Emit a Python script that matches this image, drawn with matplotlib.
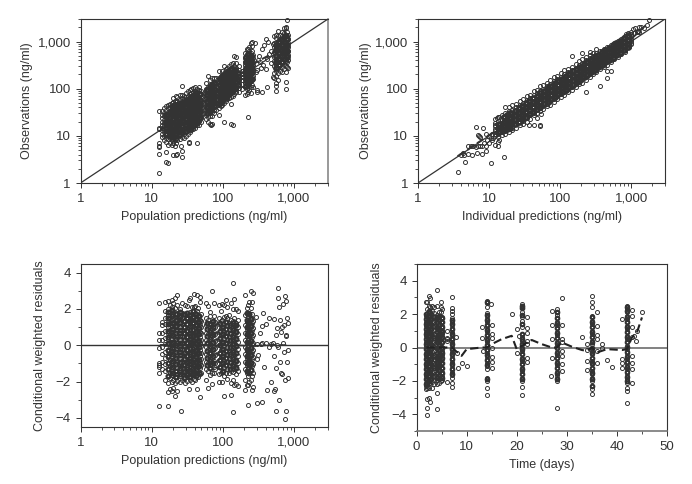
import matplotlib
matplotlib.use('Agg')
import matplotlib.pyplot as plt
from matplotlib.ticker import FixedLocator, NullFormatter

plt.rcParams['font.family'] = ['Liberation Sans', 'DejaVu Sans']

# top left: observations against population predictions
tl_x = [14, 15, 16, 17, 18, 19, 20, 21, 22, 23, 25, 26.5, 28, 30, 32, 34, 36, 38, 40, 43, 46, 49,
        58, 62, 66, 70, 75, 80,
        88, 93, 98, 104, 110, 116, 122, 130, 137, 145, 155, 168, 185,
        205, 215, 225, 235, 245, 255, 265,
        520, 560, 600, 640, 680, 720, 760, 800, 820]
tl_y = [[9.5, 11, 13, 15, 17, 20, 24, 28, 33],
        [8, 10, 12, 14, 16, 19, 22, 26, 31, 38],
        [7.5, 9, 10.5, 12.5, 15, 17.5, 21, 25, 29, 35, 42],
        [6.5, 8.5, 10, 12, 14, 16.5, 19, 23, 27, 32, 38, 44],
        [7, 9, 11, 13, 15, 18, 21, 25, 29, 34, 40, 47],
        [6.5, 8, 9.5, 11, 13.5, 16, 19, 22, 26, 30, 36, 42, 50],
        [7, 8.5, 10, 12, 14, 16.5, 20, 23, 27, 32, 37, 44, 52, 62],
        [6, 8, 9.5, 11.5, 13, 15.5, 18, 21, 25, 29, 34, 40, 47, 55],
        [7, 9, 10.5, 12.5, 14.5, 17, 20, 24, 28, 33, 38, 45, 52, 70],
        [8, 10, 11.5, 13.5, 16, 19, 22, 26, 30, 35, 41, 48, 56, 68],
        [8.5, 10.5, 12.5, 14.5, 17, 20, 23, 27, 31, 37, 43, 50, 58, 72],
        [9.5, 11.5, 13.5, 16, 18.5, 22, 25, 29, 34, 40, 46, 54, 63, 75, 115],
        [9, 11, 13, 15, 17.5, 20.5, 24, 28, 32, 38, 44, 51, 60, 70],
        [10, 12.5, 14.5, 17, 19.5, 23, 27, 31, 36, 42, 49, 57, 66, 80],
        [11, 13, 15.5, 18, 21, 24.5, 29, 33, 39, 45, 52, 61, 71, 88],
        [12, 14.5, 17, 20, 23, 27, 31, 36, 42, 49, 57, 66, 77, 95],
        [13, 15.5, 18, 21, 24.5, 28, 33, 38, 44, 51, 60, 69, 80, 100],
        [14, 17, 20, 23, 26, 30, 35, 41, 47, 55, 63, 73, 85, 103],
        [15, 18, 21, 24, 28, 32, 37, 43, 50, 58, 67, 78, 90, 108],
        [17, 20, 23, 27, 31, 35, 41, 47, 55, 63, 73, 85, 100],
        [17, 21, 25, 29, 33, 38, 44, 51, 59, 68, 79, 92, 110],
        [20, 24, 28, 32, 37, 43, 50, 58, 66, 76, 88],
        [23, 28, 33, 39, 46, 54, 63, 73, 85, 100, 130],
        [20, 25, 30, 36, 42, 49, 57, 66, 78, 92, 110, 185],
        [18, 26, 31, 37, 44, 52, 61, 72, 84, 98, 120, 150],
        [26, 32, 38, 45, 53, 62, 73, 86, 100, 125, 165],
        [30, 36, 43, 51, 60, 70, 82, 96, 115, 140, 170],
        [35, 42, 50, 59, 69, 81, 95, 112, 135, 165],
        [27, 38, 45, 53, 62, 73, 86, 100, 118, 140, 170, 235],
        [42, 50, 58, 68, 80, 94, 110, 130, 155, 185],
        [45, 53, 62, 73, 86, 101, 119, 140, 165, 195, 240],
        [50, 59, 69, 81, 95, 112, 131, 155, 180, 215, 300],
        [55, 64, 76, 89, 104, 122, 144, 170, 200, 260],
        [60, 71, 83, 98, 115, 135, 160, 188, 225, 280],
        [62, 74, 87, 102, 120, 142, 167, 195, 240, 300],
        [48, 68, 80, 94, 110, 130, 153, 180, 215, 260, 330],
        [70, 84, 99, 116, 137, 160, 190, 225, 270, 350],
        [78, 92, 108, 127, 150, 176, 208, 250, 300, 490],
        [85, 100, 118, 138, 163, 192, 228, 270, 350, 460],
        [85, 105, 125, 150, 175, 210, 250, 300],
        [100, 125, 150, 175, 200, 240],
        [72, 110, 135, 160, 190, 225, 265, 310, 370, 450, 580],
        [78, 100, 125, 150, 178, 210, 250, 295, 350, 420, 520, 700],
        [85, 115, 140, 165, 195, 230, 270, 320, 380, 460, 560, 680],
        [95, 130, 155, 185, 218, 258, 305, 360, 430, 520, 640, 780],
        [80, 110, 145, 172, 205, 240, 285, 340, 400, 480, 580, 950],
        [120, 150, 180, 215, 255, 300, 350, 420, 500, 620, 800],
        [110, 160, 190, 225, 265, 310, 370, 440, 530],
        [170, 220, 300, 380, 470, 600, 750, 950, 1300],
        [135, 190, 240, 320, 400, 500, 620, 770, 950, 1200, 1350],
        [150, 215, 280, 360, 450, 560, 690, 850, 1050, 1300, 1700],
        [240, 310, 400, 500, 620, 760, 930, 1150, 1400],
        [230, 290, 370, 460, 570, 700, 860, 1050, 1300, 1600],
        [260, 340, 430, 530, 650, 800, 980, 1200, 1500, 1900],
        [230, 300, 390, 490, 600, 740, 900, 1100, 1350, 1900, 2000],
        [290, 370, 470, 580, 710, 870, 1060, 1300, 1600],
        [270, 400, 520, 640, 780, 950, 1150, 1400]]
tl_out_x = [12.7, 12.7, 12.7, 12.7, 12.7, 12.7, 12.7, 12.7, 16, 17, 16, 20, 23, 22, 27, 27, 26, 33, 33, 43,
            105, 130, 140, 225, 300, 300, 350, 420, 550, 560, 780, 780, 800, 70, 68, 400, 430, 280, 260,
            290, 310, 340, 370, 400, 440, 470, 320, 360, 480, 500, 300, 330, 500, 420, 380]
tl_out_y = [33, 15, 14, 7.2, 6, 5.7, 4.1, 1.65, 2.8, 2.6, 4.5, 3.9, 4.2, 4, 3.5, 4.7, 6, 7.5, 7, 7,
            20, 17.5, 17, 25, 85, 95, 85, 110, 90, 115, 140, 98, 2900, 18, 17, 1150, 1000, 950, 980,
            230, 400, 270, 320, 260, 550, 350, 500, 700, 620, 180, 250, 370, 900, 430, 850]
# overlapped centre of the clouds, where the open circles merge to near solid
tl_core_x = [16, 18, 20, 22, 24.5, 27, 30, 33, 36, 39, 42, 45, 48,
             60, 65, 70, 75,
             90, 97, 104, 112, 120, 130, 140, 150, 165,
             210, 222, 235, 250,
             560, 620, 680, 740, 800]
tl_core_y = [[11, 15, 20, 27], [10, 13, 18, 24, 32], [9.5, 12.5, 17, 23, 30, 40], [11, 15, 20, 27, 36, 46],
             [10.5, 14, 19, 25, 33, 44], [12, 16, 21, 28, 37, 50], [12.5, 17, 23, 30, 40, 54], [14, 18.5, 25, 33, 44, 60],
             [15, 20, 27, 36, 48, 66], [17, 22, 30, 40, 54, 75], [19, 25, 33, 45, 60, 82], [21, 28, 37, 50, 66], [25, 33, 44, 58, 76],
             [30, 40, 53, 72, 95], [34, 45, 60, 80, 108], [38, 50, 67, 90, 122], [42, 56, 75, 100, 135],
             [50, 66, 88, 118, 158], [56, 74, 98, 132, 178], [62, 82, 110, 148, 198], [68, 92, 122, 165, 220],
             [76, 102, 136, 182, 240], [85, 113, 150, 200, 265], [95, 126, 168, 225], [105, 140, 185, 245], [120, 160, 215],
             [115, 155, 205, 275, 365, 480], [130, 172, 230, 305, 405, 540], [145, 195, 260, 345, 460], [160, 215, 285, 380, 500],
             [280, 370, 490, 650, 860], [320, 430, 570, 750, 1000], [370, 490, 650, 860, 1150], [420, 560, 740, 980, 1300], [480, 640, 850, 1120]]
tl_line_x = [15, 40, 100, 300, 500, 820]
tl_line_y = [19, 45, 112, 370, 560, 900]

# top right: observations against individual predictions
tr_x = [12, 13.5, 15, 17, 19, 21, 24, 27, 30, 34, 38, 43, 48, 52, 58, 65, 73, 82, 92, 103, 115, 130, 145,
        165, 185, 205, 230, 260, 290, 325, 365, 410, 460, 515, 580, 650, 730, 820, 920, 1000]
tr_y = [[10, 11, 12.5, 14, 16, 19, 23],
        [9.5, 11, 12.5, 14, 16, 18, 21, 25],
        [10.5, 12, 13.5, 15, 17, 19, 22, 27],
        [11, 12.5, 14.5, 16.5, 19, 22, 25, 30, 40],
        [12, 14, 16, 18.5, 21, 24, 28, 33, 41],
        [13, 15, 17.5, 20, 23, 26, 30, 36, 44],
        [15, 17.5, 20, 23, 26, 30, 35, 41, 48],
        [17, 19.5, 22.5, 26, 30, 34, 39, 46, 54],
        [18, 21, 24.5, 28, 32, 37, 43, 50, 60],
        [20, 24, 28, 32, 37, 42, 49, 57, 70],
        [23, 27, 31, 36, 41, 47, 55, 64, 75],
        [17, 27, 31, 35, 41, 47, 54, 62, 73, 88],
        [30, 35, 40, 46, 53, 60, 70, 80, 95],
        [17, 34, 39, 45, 52, 60, 69, 80, 90, 115],
        [37, 43, 50, 57, 66, 76, 87, 100, 118],
        [42, 48, 56, 64, 74, 85, 98, 113, 130],
        [46, 54, 63, 72, 83, 95, 110, 127, 150],
        [52, 61, 71, 81, 93, 107, 124, 145, 180],
        [60, 69, 79, 91, 105, 120, 138, 160, 190],
        [68, 78, 90, 103, 118, 136, 156, 180, 210],
        [75, 87, 100, 115, 132, 150, 173, 200, 250],
        [85, 98, 112, 128, 147, 168, 193, 225, 265],
        [95, 110, 125, 143, 165, 188, 215, 250, 290, 490],
        [110, 125, 142, 162, 186, 212, 243, 280, 340],
        [125, 140, 160, 183, 208, 238, 272, 315, 380],
        [135, 157, 180, 205, 235, 268, 305, 355, 430, 560],
        [85, 155, 178, 203, 232, 264, 300, 345, 400, 480],
        [175, 200, 228, 260, 297, 338, 385, 445, 520, 600],
        [200, 225, 255, 290, 330, 375, 430, 500, 570],
        [225, 255, 290, 330, 375, 425, 485, 560, 680],
        [115, 260, 290, 325, 365, 420, 475, 540, 620],
        [285, 325, 365, 410, 465, 525, 595, 680],
        [170, 240, 325, 365, 410, 460, 520, 590, 670, 770],
        [240, 360, 410, 460, 515, 580, 650, 735, 850],
        [420, 465, 520, 580, 650, 730, 820, 920],
        [470, 520, 585, 650, 730, 820, 920, 1030],
        [540, 600, 660, 730, 820, 920, 1030, 1150],
        [610, 670, 740, 820, 920, 1030, 1150, 1300],
        [780, 830, 920, 1030, 1150, 1300, 1450],
        [880, 950, 1050, 1150, 1300, 1450, 1600]]
tr_out_x = [3.6, 4.6, 4.5, 5, 5.7, 6.7, 8, 9, 10.5, 16, 6.5, 8.2, 7, 7.3, 7.5, 9, 5, 5.5, 6, 6.5, 7, 7.5, 8, 8.5, 9,
            9.5, 10, 10.5, 11, 11.5, 12, 13.5, 13.5, 14, 10, 11, 4, 4.3, 12, 13, 14, 37, 52, 47, 54,
            1100, 1200, 1250, 1300, 1400, 1500, 1800, 1700, 1150, 1050, 900, 850, 1250, 1280]
tr_out_y = [1.7, 2.8, 4, 4.1, 4, 4.4, 4.2, 4.7, 2.6, 3.5, 15.5, 15, 10.5, 10, 9.5, 11, 6.2, 6, 6, 5.8, 6, 6.2, 6, 7, 6,
            8, 7, 9, 8, 9, 6.5, 6, 7.5, 8, 10, 11, 4, 4.3, 17, 24, 25, 17, 16.5, 24, 29,
            1500, 1600, 1700, 2000, 2000, 1900, 2800, 2200, 1950, 1800, 1500, 1450, 1650, 1600]
tr_core_x = [14, 16, 18, 20, 23, 26, 29, 33, 37, 42, 47, 53, 60, 67, 75, 85, 95, 107, 120, 135, 152, 171, 192,
             216, 243, 273, 307, 345, 388, 436, 490, 550, 620, 700, 790, 890]
tr_core_y = [[12, 14.5, 18], [13, 16, 20, 25], [14, 17.5, 22, 27], [15, 19, 24, 30], [17.5, 22, 27, 34], [20, 25, 31, 38],
             [22.5, 28, 35, 43], [25, 32, 40, 50], [29, 36, 45, 56], [32, 41, 51, 63], [37, 46, 57, 71], [41, 52, 65, 80],
             [47, 59, 73, 90], [53, 66, 82, 102], [60, 74, 93, 115], [67, 84, 105, 130], [76, 95, 118, 146], [86, 107, 133, 163],
             [96, 120, 149, 183], [108, 135, 168, 205], [122, 152, 190, 232], [137, 172, 214, 262], [154, 193, 240, 293],
             [175, 218, 270, 330], [197, 245, 305, 370], [222, 275, 340, 415], [250, 310, 385, 465], [282, 350, 432, 525],
             [318, 392, 485, 590], [360, 440, 545, 660], [405, 495, 610, 740], [455, 555, 685, 830], [515, 625, 770, 925],
             [580, 700, 865, 1040], [660, 790, 975, 1170], [760, 900, 1100, 1300]]
tr_line_x = [3.6, 5, 10, 100, 1000, 1800]
tr_line_y = [3.7, 5.1, 10.3, 108, 1120, 2600]

# bottom left: residuals against population predictions
bl_x = [14, 15.5, 17, 18, 19, 20, 21.5, 23, 25, 27, 29, 31, 33, 35, 37, 39, 41, 43, 45, 47, 49.5,
        58, 62, 66, 70, 74, 78,
        88, 93, 98, 104, 110, 116, 122, 130, 137, 145, 155, 165,
        205, 215, 225, 235, 245, 255, 265]
bl_y = [[-1.3, -0.9, -0.5, -0.1, 0.3, 0.7, 1.1, 1.3],
        [-1.9, -1.4, -1.05, -0.7, -0.35, 0.05, 0.4, 0.8, 1.15, 1.5, 1.9, 2.4],
        [-2.6, -2.1, -1.7, -1.3, -1, -0.65, -0.3, 0.05, 0.35, 0.7, 1, 1.3, 1.65, 2.0, 2.45],
        [-2.4, -1.8, -1.5, -1.15, -0.8, -0.45, -0.15, 0.2, 0.55, 0.85, 1.2, 1.5, 1.85, 2.2],
        [-2.5, -2.05, -1.65, -1.3, -0.95, -0.6, -0.3, 0.05, 0.35, 0.7, 1.05, 1.4, 1.7, 2.1, 2.5],
        [-2.35, -1.9, -1.55, -1.2, -0.85, -0.5, -0.2, 0.15, 0.5, 0.85, 1.15, 1.5, 1.85, 2.3],
        [-2.8, -2.1, -1.75, -1.4, -1.05, -0.7, -0.35, 0, 0.3, 0.65, 1, 1.35, 1.7, 2.05, 2.6],
        [-2.5, -1.95, -1.6, -1.25, -0.9, -0.6, -0.25, 0.1, 0.45, 0.8, 1.1, 1.45, 1.8, 2.2, 2.75],
        [-2, -1.7, -1.35, -1, -0.7, -0.35, 0, 0.3, 0.65, 1, 1.3, 1.65, 2],
        [-1.9, -1.55, -1.2, -0.85, -0.5, -0.2, 0.15, 0.5, 0.8, 1.15, 1.5, 1.8, 2.3],
        [-2.1, -1.75, -1.4, -1.05, -0.7, -0.35, 0, 0.35, 0.7, 1, 1.35, 1.7, 2.2],
        [-1.95, -1.55, -1.2, -0.9, -0.55, -0.2, 0.1, 0.45, 0.8, 1.15, 1.45, 1.8, 2.15],
        [-2.4, -1.7, -1.35, -1, -0.7, -0.35, 0, 0.3, 0.65, 1, 1.35, 1.65, 2.5],
        [-1.9, -1.55, -1.2, -0.85, -0.5, -0.15, 0.2, 0.5, 0.85, 1.2, 1.5, 1.85, 2.6],
        [-2, -1.65, -1.3, -0.95, -0.65, -0.3, 0.05, 0.4, 0.7, 1.05, 1.4, 1.7, 2.1],
        [-1.85, -1.5, -1.15, -0.8, -0.45, -0.1, 0.25, 0.6, 0.9, 1.25, 1.6, 2.1, 2.8],
        [-1.9, -1.6, -1.25, -0.9, -0.6, -0.25, 0.1, 0.4, 0.75, 1.1, 1.4, 1.75, 2.15],
        [-2.4, -1.5, -1.15, -0.85, -0.5, -0.2, 0.15, 0.5, 0.85, 1.15, 1.5, 1.9, 2.75],
        [-1.75, -1.4, -1.05, -0.7, -0.35, 0, 0.3, 0.65, 1, 1.3, 1.65, 2.05],
        [-2.85, -1.6, -1.25, -0.95, -0.6, -0.25, 0.1, 0.45, 0.75, 1.1, 1.4, 2.4, 2.65],
        [-1.5, -1.1, -0.75, -0.4, -0.05, 0.3, 0.65, 1, 1.35, 1.7],
        [-1.9, -1.3, -0.9, -0.5, -0.1, 0.3, 0.7, 1.1, 1.5, 2.35],
        [-2.35, -1.4, -1, -0.6, -0.2, 0.2, 0.6, 1, 1.4, 2.15],
        [-1.65, -1.1, -0.75, -0.35, 0.05, 0.45, 0.85, 1.25, 1.6, 1.85],
        [-2.15, -1.5, -1.1, -0.7, -0.3, 0.1, 0.5, 0.9, 1.3, 3],
        [-1.55, -1.2, -0.85, -0.45, -0.05, 0.35, 0.75, 1.15, 1.6, 2.3],
        [-1.3, -0.95, -0.55, -0.15, 0.25, 0.6, 1, 1.3],
        [-2.05, -1.6, -1.2, -0.8, -0.4, 0, 0.35, 0.75, 1.15, 1.5, 2.2],
        [-1.5, -1.05, -0.65, -0.25, 0.15, 0.55, 0.95, 1.35, 1.9],
        [-2, -1.45, -1, -0.6, -0.2, 0.2, 0.6, 1, 1.4, 2.25],
        [-2.8, -1.7, -1.25, -0.85, -0.45, -0.05, 0.35, 0.75, 1.15, 1.55, 2.2],
        [-1.5, -1.1, -0.7, -0.3, 0.1, 0.5, 0.9, 1.3, 1.6, 2.5],
        [-1.85, -1.3, -0.9, -0.5, -0.1, 0.3, 0.7, 1.1, 1.5, 2.1],
        [-1.55, -1.15, -0.75, -0.35, 0.05, 0.45, 0.85, 1.25, 1.65],
        [-2.75, -2.1, -1.4, -1, -0.6, -0.2, 0.2, 0.6, 1, 1.4, 2.35],
        [-1.9, -1.45, -1.05, -0.65, -0.25, 0.15, 0.55, 0.95, 1.35, 2],
        [-2.2, -1.3, -0.9, -0.5, -0.1, 0.3, 0.7, 1.1, 1.5, 2.55],
        [-2.15, -1.6, -1.2, -0.8, -0.4, 0, 0.4, 0.8, 1.2, 2],
        [-2.25, -1.4, -1, -0.6, -0.2, 0.2, 0.6, 1, 1.4, 1.9],
        [-1.9, -1.3, -0.9, -0.5, -0.1, 0.3, 0.7, 1.1, 1.65, 2.75],
        [-2.2, -1.5, -1.1, -0.7, -0.3, 0.1, 0.5, 0.9, 1.3, 2.05],
        [-2.2, -1.7, -1.25, -0.85, -0.45, -0.05, 0.35, 0.75, 1.15, 1.6, 2.2],
        [-2, -1.45, -1, -0.6, -0.2, 0.2, 0.6, 1, 1.4, 1.8, 2.4],
        [-1.9, -1.3, -0.9, -0.5, -0.1, 0.3, 0.7, 1.1, 1.5, 2.05, 3],
        [-2.45, -1.7, -1.15, -0.75, -0.35, 0.05, 0.45, 0.85, 1.25, 1.7, 2.4],
        [-2.3, -1.5, -1.05, -0.65, -0.25, 0.15, 0.55, 0.95, 1.35, 2.9]]
bl_out_x = [12.7, 12.7, 12.7, 12.7, 12.7, 12.7, 12.7, 12.7, 12.7, 17, 26, 140, 140, 225, 300, 350, 205,
            290, 300, 310, 330, 350, 370, 400, 420, 440, 470, 500, 520, 540, 550, 560, 570, 590, 600,
            610, 620, 640, 660, 680, 700, 720, 740, 750, 760, 780, 790, 800, 820, 600, 750, 760, 830,
            300, 340, 360, 380, 410, 450, 480, 530, 580, 650, 690, 730, 770, 810, 520, 560, 640, 680]
bl_out_y = [2.35, 0.7, 0.3, -0.15, -1, -1.1, -1.2, -1.55, -3.35, -3.35, -3.6, 3.45, -3.7, -3.3, -3.2, -3.1, -2.45,
            1.55, 0.05, -0.55, 0.7, 1.05, 1.8, 1.15, -2.45, 1.5, -2.05, 0.1, -2.5, -2.4, -3.6, -1.25, 0.95, 2.6, 3.15,
            -3, 2.1, 1.4, 0.75, -1.6, 2.25, -0.35, 2.7, -1.9, -3.6, 2.45, 1.5, -0.9, -1.8, -0.1, -4.05, 0.55, 1.2,
            -0.75, 0.05, 0.1, -1.2, 0.15, -0.1, 0.05, 1.45, 0, -1.55, 0.1, 1.1, 0.5, -0.25, -0.6, 0.55, -0.9, 1]
bl_core_x = [17, 19.5, 22, 25, 28, 31, 34, 38, 42, 46,
             60, 66, 72,
             92, 102, 112, 124, 138, 152,
             215, 230, 248]
bl_core_y = [[-1.7, -1.3, -0.95, -0.6, -0.25, 0.1, 0.45, 0.8, 1.15, 1.5, 1.85],
             [-1.55, -1.2, -0.85, -0.5, -0.15, 0.2, 0.55, 0.9, 1.25, 1.6, 1.95],
             [-1.75, -1.4, -1.05, -0.7, -0.35, 0, 0.35, 0.7, 1.05, 1.4, 1.7],
             [-1.6, -1.25, -0.9, -0.55, -0.2, 0.15, 0.5, 0.85, 1.2, 1.55, 1.85],
             [-1.8, -1.45, -1.1, -0.75, -0.4, -0.05, 0.3, 0.65, 1, 1.35, 1.7],
             [-1.65, -1.3, -0.95, -0.6, -0.25, 0.1, 0.45, 0.8, 1.15, 1.5, 1.8],
             [-1.75, -1.4, -1.05, -0.7, -0.35, 0, 0.35, 0.7, 1.05, 1.4, 1.65],
             [-1.6, -1.25, -0.9, -0.55, -0.2, 0.15, 0.5, 0.85, 1.2, 1.55, 1.9],
             [-1.7, -1.35, -1, -0.65, -0.3, 0.05, 0.4, 0.75, 1.1, 1.45, 1.7],
             [-1.5, -1.15, -0.8, -0.45, -0.1, 0.25, 0.6, 0.95, 1.3, 1.6],
             [-1.1, -0.7, -0.3, 0.1, 0.5, 0.9, 1.25],
             [-1.25, -0.85, -0.45, -0.05, 0.35, 0.75, 1.15],
             [-1, -0.6, -0.2, 0.2, 0.6, 1, 1.35],
             [-1.2, -0.8, -0.4, 0, 0.4, 0.8, 1.2],
             [-1.4, -1, -0.6, -0.2, 0.2, 0.6, 1],
             [-1.1, -0.7, -0.3, 0.1, 0.5, 0.9, 1.3],
             [-1.3, -0.9, -0.5, -0.1, 0.3, 0.7, 1.1],
             [-1.15, -0.75, -0.35, 0.05, 0.45, 0.85, 1.2],
             [-1.25, -0.85, -0.45, -0.05, 0.35, 0.75, 1.1],
             [-1.4, -1, -0.6, -0.2, 0.2, 0.6, 1, 1.4, 1.8],
             [-1.5, -1.1, -0.7, -0.3, 0.1, 0.5, 0.9, 1.3, 1.7],
             [-1.35, -0.95, -0.55, -0.15, 0.25, 0.65, 1.05, 1.45]]
bl_line_x = [13, 60, 150, 300, 500, 820]
bl_line_y = [0.02, 0.03, 0, -0.05, 0.03, 0]

# bottom right: residuals against time
br_x = [1.8, 2.1, 2.4, 2.7, 3, 3.5, 4, 4.4, 4.8, 5.1, 7, 14, 21, 28, 35, 42]
br_y = [[-2.5, -2.3, -2.1, -1.9, -1.7, -1.5, -1.3, -1.1, -0.9, -0.7, -0.5, -0.3, -0.1, 0.1, 0.3, 0.5, 0.7, 0.9, 1.1, 1.3, 1.5, 1.7, 1.9, 2.7],
        [-4.05, -3.6, -3.1, -2.45, -2.2, -2, -1.8, -1.6, -1.4, -1.2, -1, -0.8, -0.6, -0.4, -0.2, 0, 0.2, 0.4, 0.6, 0.8, 1, 1.2, 1.4, 1.6, 1.8, 2, 2.3, 2.75],
        [-3, -2.4, -2.15, -1.95, -1.75, -1.55, -1.35, -1.15, -0.95, -0.75, -0.55, -0.35, -0.15, 0.05, 0.25, 0.45, 0.65, 0.85, 1.05, 1.25, 1.45, 1.65, 1.85, 2.05, 2.5, 3.1],
        [-3.25, -2.1, -1.9, -1.7, -1.5, -1.3, -1.1, -0.9, -0.7, -0.5, -0.3, -0.1, 0.1, 0.3, 0.5, 0.7, 0.9, 1.1, 1.3, 1.5, 1.7, 1.9, 2.1, 2.4, 2.95],
        [-2.45, -2.05, -1.85, -1.65, -1.45, -1.25, -1.05, -0.85, -0.65, -0.45, -0.25, -0.05, 0.15, 0.35, 0.55, 0.75, 0.95, 1.15, 1.35, 1.55, 1.75, 1.95, 2.2, 2.5],
        [-2.2, -1.95, -1.7, -1.45, -1.2, -0.95, -0.7, -0.45, -0.2, 0.05, 0.3, 0.55, 0.8, 1.05, 1.3, 1.55, 1.8, 2.05, 2.4],
        [-3.7, -2.75, -2.2, -1.95, -1.7, -1.5, -1.3, -1.1, -0.9, -0.7, -0.5, -0.3, -0.1, 0.1, 0.3, 0.5, 0.7, 0.9, 1.1, 1.3, 1.5, 1.7, 1.95, 2.5, 3.45],
        [-2.15, -1.9, -1.65, -1.4, -1.15, -0.9, -0.65, -0.4, -0.15, 0.1, 0.35, 0.6, 0.85, 1.1, 1.35, 1.6, 1.85, 2.1],
        [-2, -1.75, -1.5, -1.25, -1, -0.75, -0.5, -0.25, 0, 0.25, 0.5, 0.75, 1, 1.25, 1.5, 1.75, 2.1, 2.45, 2.7],
        [-1.95, -1.7, -1.45, -1.2, -0.95, -0.7, -0.45, -0.2, 0.05, 0.3, 0.55, 0.8, 1.05, 1.3, 1.55, 1.8, 2.3],
        [-2.35, -2.1, -1.85, -1.65, -1.45, -1.25, -1.05, -0.85, -0.65, -0.45, -0.25, -0.05, 0.15, 0.35, 0.55, 0.75, 0.95, 1.15, 1.35, 1.55, 1.75, 2, 2.2, 2.35, 3],
        [-2.85, -2.4, -2, -1.85, -1.3, -1.1, -0.9, -0.7, -0.5, -0.3, -0.1, 0.1, 0.3, 0.5, 0.7, 0.9, 1.1, 1.3, 1.5, 1.7, 1.9, 2.05, 2.4, 2.65, 2.8],
        [-2.85, -2.35, -2, -1.8, -1.6, -1.4, -1.2, -1, -0.8, -0.6, -0.4, -0.2, 0, 0.2, 0.4, 0.6, 0.8, 1.2, 1.4, 1.6, 1.8, 2.1, 2.45, 2.6],
        [-3.6, -2, -1.85, -1.65, -1.45, -1.25, -1.05, -0.85, -0.65, -0.45, -0.25, -0.05, 0.15, 0.35, 0.55, 0.75, 0.95, 1.15, 1.35, 1.55, 1.75, 1.95, 2.15, 2.3],
        [-2.8, -2.5, -2.3, -2, -1.8, -1.6, -1.4, -1.2, -1, -0.8, -0.6, -0.4, -0.2, 0, 0.2, 0.4, 0.6, 0.8, 1, 1.2, 1.4, 1.6, 1.9, 2.4, 2.75, 3.1],
        [-3.35, -2.6, -2.4, -2.1, -1.9, -1.7, -1.5, -1.3, -1.1, -0.9, -0.7, -0.5, -0.3, -0.1, 0.1, 0.3, 0.5, 0.7, 0.9, 1.1, 1.3, 1.5, 1.7, 1.9, 2.1, 2.3, 2.5]]
br_out_x = [6, 6, 6, 6, 6, 7.9, 8, 8.2, 9, 10, 13, 13, 13.2, 14.9, 15, 15, 15, 15, 15, 15, 15, 19, 20, 20, 20.5,
            22, 22, 22, 22, 22, 22, 22, 26.9, 27, 27, 27, 27.1, 29, 29, 29, 29, 29, 29, 29, 29, 33, 34, 34, 34, 34,
            36, 36, 36, 36, 36, 36, 37, 37, 38, 39, 41, 41, 41, 41, 43, 43, 43, 43, 43, 43, 43, 43, 45, 44, 43.5, 43.8]
br_out_y = [-2.05, 0.4, 0.5, 1, 0.55, 0.65, -0.35, -1.25, -0.95, -1.1, 1.25, 0.55, -0.2, 2.6, 1.35, 0.8, 0.55, 0, -0.55, -0.85, -1.25, 2, -0.3, 1.1, 0.7,
            1.8, 1.15, 0.85, 0.4, 0.2, -0.65, -0.85, -1.7, 1.35, 0.5, -0.65, 2.2, 2.95, 1.35, 0.5, 0.3, -0.2, -0.5, -1, -1.4, 0.6, 0.2, -0.15, -0.8, -1.35,
            2.15, 1.3, 0.75, 0.5, -0.2, -0.95, 0.2, 0, -0.75, -1.15, 1.7, -0.7, -0.95, -1.25, 2.25, 1.9, 1.2, 0.6, -0.5, -0.95, -1.3, -2.1, 2.15, 1, 0.7, 0.4]
br_core_x = [1.9, 2.4, 2.9, 4, 4.5, 5, 7, 14, 21, 28, 35, 42]
br_core_y = [[-2.2, -1.9, -1.6, -1.3, -1, -0.7, -0.4, -0.1, 0.2, 0.5, 0.8, 1.1, 1.4, 1.7, 2],
             [-2, -1.7, -1.4, -1.1, -0.8, -0.5, -0.2, 0.1, 0.4, 0.7, 1, 1.3, 1.6, 1.9, 2.2],
             [-1.9, -1.6, -1.3, -1, -0.7, -0.4, -0.1, 0.2, 0.5, 0.8, 1.1, 1.4, 1.7, 2],
             [-1.8, -1.5, -1.2, -0.9, -0.6, -0.3, 0, 0.3, 0.6, 0.9, 1.2, 1.5, 1.8],
             [-1.65, -1.35, -1.05, -0.75, -0.45, -0.15, 0.15, 0.45, 0.75, 1.05, 1.35, 1.65, 1.9],
             [-1.8, -1.5, -1.2, -0.9, -0.6, -0.3, 0, 0.3, 0.6, 0.9, 1.2, 1.5, 1.75],
             [-1.6, -1.3, -1, -0.7, -0.4, -0.1, 0.2, 0.5, 0.8, 1.1, 1.4, 1.65],
             [-1.9, -1.05, -0.75, -0.45, -0.15, 0.15, 0.45, 0.75, 1.05, 1.35, 1.65, 1.95, 2.7],
             [-1.9, -1.6, -1.3, -1, -0.7, -0.4, -0.1, 0.2, 0.5, 0.8, 1.4, 1.95, 2.35, 2.5],
             [-1.9, -1.55, -1.25, -0.95, -0.65, -0.35, -0.05, 0.25, 0.55, 0.85, 1.15, 1.45, 1.75, 2.1],
             [-2.3, -1.9, -1.5, -1.2, -0.9, -0.6, -0.3, 0, 0.3, 0.6, 0.9, 1.2, 1.5, 1.8],
             [-2, -1.75, -1.45, -1.15, -0.85, -0.55, -0.25, 0.05, 0.35, 0.65, 0.95, 1.25, 1.55, 1.85, 2.2, 2.4]]
br_line_x = [2, 5, 7, 8, 9, 10, 13, 14, 15, 17, 19, 20, 21, 22, 23, 25, 27, 28, 29, 31, 33, 34, 35, 36, 38, 41, 42, 43, 44, 45]
br_line_y = [0, 0, 0, -0.25, -0.5, -0.1, 0, 0, 0.2, 0.5, 0.7, -0.1, 0.1, 0.3, 0.45, 0.2, 0, 0, 0.3, 0.05, -0.15, -0.2, 0, -0.3, -0.1, -0.15, -0.1, 0.6, 0.9, 1.8]


def expand(xs, cols, out_x=[], out_y=[]):
    px, py = [], []
    for x, col in zip(xs, cols):
        px += [x] * len(col)
        py += col
    return px + out_x, py + out_y


W, H = 692, 484
ink = '#333333'
fig = plt.figure(figsize=(W / 100, H / 100), dpi=100)


def panel(l, r, t, b):
    ax = fig.add_axes([l / W, 1 - b / H, (r - l) / W, (b - t) / H])
    ax.tick_params(which='major', length=3.5, width=0.7, color=ink, labelcolor=ink, labelsize=9.5, pad=3.5)
    ax.tick_params(which='minor', length=2, width=0.6, color=ink)
    for s in ax.spines.values():
        s.set_linewidth(0.8)
        s.set_color(ink)
    return ax


def logx(ax):
    ax.set_xscale('log')
    ax.set_xlim(1, 3000)
    ax.set_xticks([1, 10, 100, 1000], ['1', '10', '100', '1,000'])
    ax.xaxis.set_minor_locator(FixedLocator([m * d for d in [1, 10, 100, 1000] for m in range(2, 10) if m * d <= 3000]))
    ax.xaxis.set_minor_formatter(NullFormatter())


def logy(ax):
    ax.set_yscale('log')
    ax.set_ylim(1, 3000)
    ax.set_yticks([1, 10, 100, 1000], ['1', '10', '100', '1,000'])
    ax.yaxis.set_minor_locator(FixedLocator([m * d for d in [1, 10, 100, 1000] for m in range(2, 10) if m * d <= 3000]))
    ax.yaxis.set_minor_formatter(NullFormatter())


def dots(ax, xs, cols, out_x, out_y, core_x, core_y, core_ms, core_mew):
    x, y = expand(xs, cols, out_x, out_y)
    ax.plot(x, y, 'o', ms=2.9, mfc='none', mec=ink, mew=0.7, clip_on=False, zorder=2)
    x, y = expand(core_x, core_y)
    ax.plot(x, y, 'o', ms=core_ms, mfc='none', mec=ink, mew=core_mew, zorder=2)


# panel a
ax1 = panel(80.5, 328, 19, 183)
logx(ax1)
logy(ax1)
dots(ax1, tl_x, tl_y, tl_out_x, tl_out_y, tl_core_x, tl_core_y, 3, 1.9)
ax1.plot([1, 3000], [1, 3000], color=ink, lw=0.9, zorder=3)
ax1.plot(tl_line_x, tl_line_y, color=ink, lw=1.4, ls=(0, (4, 2)), zorder=3)
ax1.spines['right'].set_color('#888888')
ax1.spines['right'].set_linewidth(1.2)
ax1.set_xlabel('Population predictions (ng/ml)', fontsize=9, color=ink, labelpad=4.5)
ax1.set_ylabel('Observations (ng/ml)', fontsize=9, color=ink, labelpad=3)

# panel b
ax2 = panel(418, 665, 19, 183)
logx(ax2)
logy(ax2)
dots(ax2, tr_x, tr_y, tr_out_x, tr_out_y, tr_core_x, tr_core_y, 3, 1.9)
ax2.plot([1, 3000], [1, 3000], color=ink, lw=0.9, zorder=3)
ax2.plot(tr_line_x, tr_line_y, color=ink, lw=1.4, ls=(0, (4, 2)), zorder=3)
ax2.set_xlabel('Individual predictions (ng/ml)', fontsize=9, color=ink, labelpad=4.5)
ax2.set_ylabel('Observations (ng/ml)', fontsize=9, color=ink, labelpad=2)

# panel c
ax3 = panel(80.5, 328, 263.5, 427)
logx(ax3)
ax3.set_ylim(-4.5, 4.5)
ax3.set_yticks([-4, -2, 0, 2, 4], ['\u22124', '\u22122', '0', '2', '4'])
ax3.set_yticks([-3, -1, 1, 3], minor=True)
dots(ax3, bl_x, bl_y, bl_out_x, bl_out_y, bl_core_x, bl_core_y, 2.8, 1.6)
ax3.axhline(0, color=ink, lw=1.0, zorder=3)
ax3.plot(bl_line_x, bl_line_y, color=ink, lw=1.2, ls=(0, (4, 2)), zorder=3)
ax3.set_xlabel('Population predictions (ng/ml)', fontsize=9, color=ink, labelpad=4.5)
ax3.set_ylabel('Conditional weighted residuals', fontsize=9, color=ink, labelpad=7)

# panel d
ax4 = panel(416.5, 667, 264, 431)
ax4.set_xlim(0, 50)
ax4.set_ylim(-5, 5)
ax4.set_xticks([0, 10, 20, 30, 40, 50])
ax4.set_xticks([5, 15, 25, 35, 45], minor=True)
ax4.set_yticks([-4, -2, 0, 2, 4], ['\u22124', '\u22122', '0', '2', '4'])
ax4.set_yticks([-5, -3, -1, 1, 3, 5], minor=True)
dots(ax4, br_x, br_y, br_out_x, br_out_y, br_core_x, br_core_y, 2.6, 1.5)
ax4.axhline(0, color='#777777', lw=1.3, zorder=1)
ax4.plot(br_line_x, br_line_y, color='#222222', lw=1.5, ls=(0, (4, 2)), zorder=3)
ax4.spines['bottom'].set_color('#777777')
ax4.spines['bottom'].set_linewidth(1.2)
ax4.set_xlabel('Time (days)', fontsize=9, color=ink, labelpad=4.5)
ax4.set_ylabel('Conditional weighted residuals', fontsize=9, color=ink, labelpad=6.5)

fig.savefig('out.png', dpi=100)
